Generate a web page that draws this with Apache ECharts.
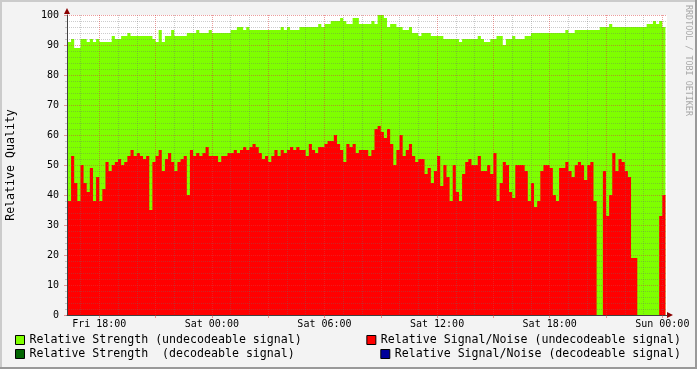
<!DOCTYPE html>
<html>
<head>
<meta charset="utf-8">
<script src="https://cdn.jsdelivr.net/npm/echarts@6/dist/echarts.min.js"></script>
<style>
html,body{margin:0;padding:0;background:#f3f3f3;}
#c{width:697px;height:369px;}
</style>
</head>
<body>
<div id="c"></div>
<script>
// ---------------- data ----------------
const seriesNames = [
  'Relative Strength (undecodeable signal)',
  'Relative Strength  (decodeable signal)',
  'Relative Signal/Noise (undecodeable signal)',
  'Relative Signal/Noise (decodeable signal)'
];
const tickLabels = ['Fri 18:00', 'Sat 00:00', 'Sat 06:00', 'Sat 12:00', 'Sat 18:00', 'Sun 00:00'];
const tickHours = [18, 24, 30, 36, 42, 48];            // hours after Fri 00:00
const majorGridHours = [18, 21, 24, 27, 30, 33, 36, 39, 42, 45, 48];
const minorGridHours = [17, 19, 20, 22, 23, 25, 26, 28, 29, 31, 32, 34, 35, 37, 38, 40, 41, 43, 44, 46, 47];
const axisStartHour = 16 + 17 / 60;   // Fri 16:17
const axisEndHour = 48 + 15 / 60;     // Sun 00:15
const firstSampleHour = 16 + 20 / 60; // Fri 16:20
const stepMinutes = 10;

// Relative Strength (undecodeable signal), one value per 10 minutes
const strength = [
  91,92,89,89,92,92,91,92,91,92,
  91,91,91,91,93,92,92,93,93,94,
  93,93,93,93,93,93,93,92,91,95,
  91,93,93,95,93,93,93,93,94,94,
  94,95,94,94,94,95,94,94,94,94,
  94,94,95,95,96,96,95,96,95,95,
  95,95,95,95,95,95,95,95,96,95,
  96,95,95,95,96,96,96,96,96,96,
  97,96,97,97,98,98,98,99,98,97,
  97,99,99,97,97,97,97,98,97,100,
  100,99,96,97,97,96,96,95,95,96,
  94,94,93,94,94,94,93,93,93,93,
  92,92,92,92,92,91,92,92,92,92,
  92,93,92,91,91,92,92,93,93,90,
  92,92,93,92,92,92,93,93,94,94,
  94,94,94,94,94,94,94,94,94,95,
  94,94,95,95,95,95,95,95,95,95,
  96,96,96,97,96,96,96,96,96,96,
  96,96,96,96,96,97,97,98,97,98,
  96
];
// Relative Signal/Noise (undecodeable signal)
const snr = [
  38,53,44,38,50,44,41,49,38,46,
  38,42,51,48,50,51,52,50,51,53,
  55,53,54,53,52,53,35,51,53,55,
  48,52,54,51,48,51,52,53,40,55,
  53,54,53,54,56,53,53,53,51,53,
  53,54,54,55,54,55,56,55,56,57,
  56,54,52,53,51,53,55,53,55,54,
  55,56,55,56,55,55,53,57,55,54,
  56,56,57,58,58,60,57,55,51,57,
  56,57,54,55,55,55,53,55,62,63,
  61,59,62,57,50,55,60,53,55,57,
  53,51,52,52,47,49,44,48,53,43,
  50,46,38,50,41,38,47,51,52,50,
  50,53,48,48,50,47,54,38,44,51,
  50,41,39,50,50,50,48,38,44,36,
  38,48,50,50,49,40,38,49,49,51,
  48,46,50,51,50,45,50,51,38,0,
  0,48,33,40,54,48,52,51,48,46,
  19,19,0,0,0,0,0,0,0,33,
  40
];
const strengthDecodeable = [];
const snrDecodeable = [];

// ---------------- chart ----------------
const FONT = '"DejaVu Sans Mono", monospace';

function toSeries(values) {
  const hourAt = i => firstSampleHour + i * stepMinutes / 60;
  const pts = values.map((v, i) => [hourAt(i), v]);
  if (values.length) pts.push([hourAt(values.length), values[values.length - 1]]);
  return pts;
}

const colors = ['#7FFF00', '#006400', '#FF0000', '#000099'];
const datasets = [strength, strengthDecodeable, snr, snrDecodeable];

const MAJOR = 'rgba(215,60,60,0.5)';
const MINOR = 'rgba(110,110,110,0.35)';

const chart = echarts.init(document.getElementById('c'), null, {renderer: 'canvas'});

const legendBase = {
  orient: 'horizontal', icon: 'rect', itemWidth: 9, itemHeight: 9, padding: 0,
  selectedMode: false,
  itemStyle: {borderColor: '#000', borderWidth: 1},
  textStyle: {fontFamily: FONT, fontSize: 11.6, color: '#000'}
};

chart.setOption({
  animation: false,
  backgroundColor: '#F3F3F3',
  grid: {left: 67, top: 15, width: 600, height: 300, show: true, backgroundColor: '#FFFFFF',
    borderWidth: 0, containLabel: false, outerBoundsMode: 'none', z: 0},
  xAxis: [
    {
      type: 'value', min: axisStartHour, max: axisEndHour, z: 10,
      axisLine: {show: true, onZero: false, lineStyle: {color: '#404040', width: 1}},
      axisTick: {show: true, customValues: majorGridHours, length: 3, inside: false, lineStyle: {color: MAJOR}},
      axisLabel: {
        show: true, customValues: tickHours, margin: 4,
        fontFamily: FONT, fontSize: 10, color: '#000',
        formatter: v => { const k = tickHours.findIndex(h => Math.abs(h - v) < 1e-6); return k >= 0 ? tickLabels[k] : ''; }
      },
      splitLine: {show: true, lineStyle: {color: MAJOR, type: 'dotted', width: 1}},
      minorTick: {show: false}, minorSplitLine: {show: false}
    },
    {
      type: 'value', min: axisStartHour, max: axisEndHour, z: 9, position: 'bottom',
      axisLine: {show: true, onZero: false, symbol: ['none', 'triangle'], symbolSize: [6, 6], symbolOffset: [0, 3],
        lineStyle: {color: '#8B0000', width: 0}},
      axisTick: {show: false, customValues: minorGridHours},
      axisLabel: {show: false},
      splitLine: {show: true, lineStyle: {color: MINOR, type: 'dotted', width: 1}}
    }
  ],
  yAxis: [
    {
      type: 'value', min: 0, max: 100, interval: 10, z: 10,
      name: 'Relative Quality', nameLocation: 'middle', nameRotate: 90, nameGap: 50,
      nameTextStyle: {fontFamily: FONT, fontSize: 11.6, color: '#000'},
      axisLine: {show: true, lineStyle: {color: '#404040', width: 1}},
      axisTick: {show: true, length: 3, lineStyle: {color: MAJOR}},
      minorTick: {show: true, splitNumber: 5, length: 2, lineStyle: {color: MINOR}},
      axisLabel: {margin: 8, fontFamily: FONT, fontSize: 10, color: '#000'},
      splitLine: {show: true, lineStyle: {color: MAJOR, type: 'dotted', width: 1}},
      minorSplitLine: {show: true, lineStyle: {color: MINOR, type: 'dotted', width: 1}}
    },
    {
      type: 'value', min: 0, max: 100, interval: 10, position: 'left', z: 11,
      axisLine: {show: true, symbol: ['none', 'triangle'], symbolSize: [6, 6], symbolOffset: [0, 4],
        lineStyle: {color: '#8B0000', width: 0}},
      axisTick: {show: false}, axisLabel: {show: false}, splitLine: {show: false}
    }
  ],
  legend: [
    Object.assign({}, legendBase, {data: [seriesNames[0]], left: 15, top: 334}),
    Object.assign({}, legendBase, {data: [seriesNames[1]], left: 15, top: 348}),
    Object.assign({}, legendBase, {data: [seriesNames[2]], right: 16, top: 334}),
    Object.assign({}, legendBase, {data: [seriesNames[3]], right: 16, top: 348})
  ],
  series: seriesNames.map((name, k) => ({
    name: name, type: 'line', step: 'end', xAxisIndex: 0, yAxisIndex: 0,
    data: toSeries(datasets[k]),
    showSymbol: false, symbol: 'none', silent: true, z: 1,
    lineStyle: {width: 0, color: colors[k]},
    itemStyle: {color: colors[k]},
    areaStyle: {color: colors[k], opacity: 1}
  })),
  graphic: [
    {type: 'rect', shape: {x: 0, y: 0, width: 697, height: 2}, style: {fill: '#CBCBCB'}, silent: true},
    {type: 'rect', shape: {x: 0, y: 0, width: 2, height: 369}, style: {fill: '#CBCBCB'}, silent: true},
    {type: 'rect', shape: {x: 0, y: 367, width: 697, height: 2}, style: {fill: '#999999'}, silent: true},
    {type: 'rect', shape: {x: 695, y: 0, width: 2, height: 369}, style: {fill: '#999999'}, silent: true},
    {type: 'text', x: 688, y: 5, rotation: -Math.PI / 2, silent: true,
      style: {text: 'RRDTOOL / TOBI OETIKER', fill: '#A8A8A8', font: '8.4px "DejaVu Sans Mono"',
        textAlign: 'left', textVerticalAlign: 'middle'}}
  ]
});
</script>
</body>
</html>
